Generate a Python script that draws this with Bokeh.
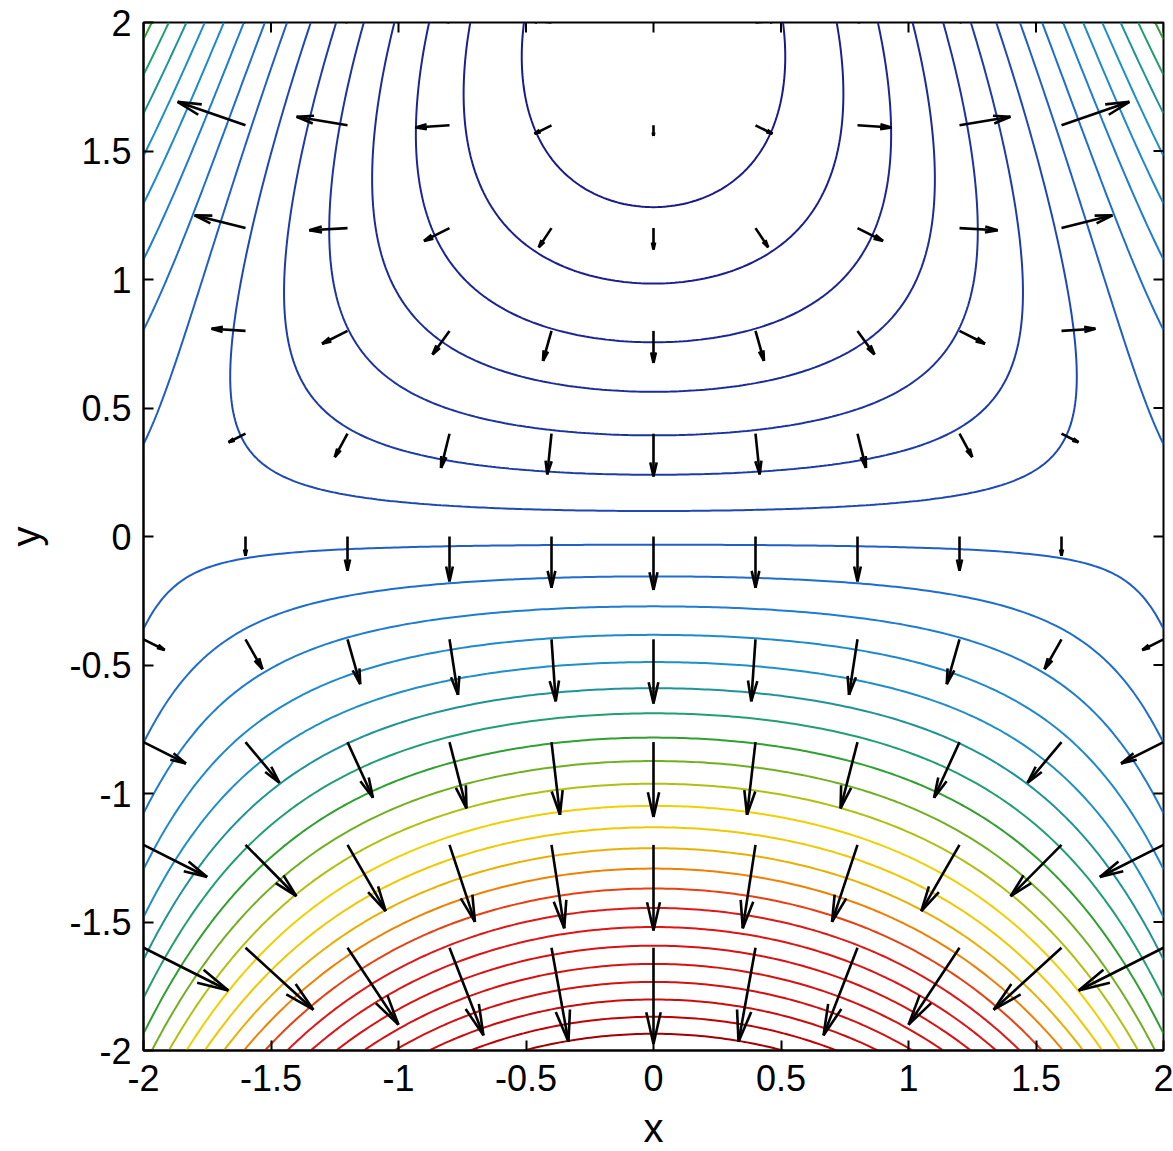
import numpy as np
from bokeh.plotting import figure
from bokeh.models import FixedTicker, Range1d
from bokeh.embed import file_html
from bokeh.resources import INLINE

# ---------------- data ----------------
X_LIMITS = [-2.0, 2.0]
Y_LIMITS = [-2.0, 2.0]
TICK_VALUES = [-2, -1.5, -1, -0.5, 0, 0.5, 1, 1.5, 2]
TICK_LABELS = ["-2", "-1.5", "-1", "-0.5", "0", "0.5", "1", "1.5", "2"]
X_LABEL = "x"
Y_LABEL = "y"

# surface f(x, y) = x^2 y + (y - 2)^2 sampled on a fine grid (contours)
contour_x = np.linspace(-2.0, 2.0, 241)
contour_y = np.linspace(-2.0, 2.0, 241)
# coarse grid for the gradient arrows
quiver_x = np.linspace(-2.0, 2.0, 11)
quiver_y = np.linspace(-2.0, 2.0, 11)
N_LEVELS = 30

LEVEL_COLORS = [
    "#1a1a8c", "#1b1f90", "#1c2595", "#1c2b9a", "#1c33a1", "#1d3ca9",
    "#1d48b6", "#1e5fc8", "#1e6ed0", "#1e7cd2", "#1e8ace", "#1e90c8",
    "#1e9496", "#20a070", "#30a030", "#70b020", "#b0c010", "#f0d000",
    "#f0c800", "#e8b000", "#f08000", "#e84010", "#e01818", "#e01414",
    "#dc1010", "#d81010", "#d41010", "#cc0c0c", "#c00000", "#a00000",
]


def surface(x, y):
    return x ** 2 * y + (y - 2.0) ** 2


def surface_gradient(x, y):
    return 2.0 * x * y, x ** 2 + 2.0 * (y - 2.0)


# ---------------- figure ----------------
p = figure(
    frame_width=1020, frame_height=1028,
    x_range=Range1d(*X_LIMITS), y_range=Range1d(*Y_LIMITS),
    output_backend="svg", toolbar_location=None,
    min_border_left=143, min_border_right=10,
    min_border_top=22, min_border_bottom=93,
    background_fill_color="white", border_fill_color="white",
)
p.grid.visible = False
p.outline_line_color = "black"
p.outline_line_width = 2

XX, YY = np.meshgrid(contour_x, contour_y)
Z = surface(XX, YY)
levels = np.linspace(Z.min(), Z.max(), N_LEVELS + 2)[1:-1]
p.contour(contour_x, contour_y, Z, levels,
          line_color=LEVEL_COLORS, line_width=2, fill_color=None)

# quiver arrows (MATLAB-style open heads)
QX, QY = np.meshgrid(quiver_x, quiver_y)
U, V = surface_gradient(QX, QY)
scale = 0.052
u = (U * scale).ravel()
v = (V * scale).ravel()
x0 = QX.ravel()
y0 = QY.ravel()
x1 = x0 + u
y1 = y0 + v
alpha, beta, eps = 0.33, 0.23, 1e-9
hx_a = x1 - alpha * (u + beta * (v + eps))
hy_a = y1 - alpha * (v - beta * (u + eps))
hx_b = x1 - alpha * (u - beta * (v + eps))
hy_b = y1 - alpha * (v + beta * (u + eps))

p.segment(x0, y0, x1, y1, line_color="black", line_width=2.6)
p.segment(hx_a, hy_a, x1, y1, line_color="black", line_width=2.6)
p.segment(hx_b, hy_b, x1, y1, line_color="black", line_width=2.6)

# ---------------- axes ----------------
overrides = {float(t): s for t, s in zip(TICK_VALUES, TICK_LABELS)}
FONT = "Liberation Sans"

for ax in (p.xaxis[0], p.yaxis[0]):
    ax.ticker = FixedTicker(ticks=TICK_VALUES)
    ax.major_label_overrides = overrides
    ax.major_tick_in = 10
    ax.major_tick_out = 0
    ax.minor_tick_in = 0
    ax.minor_tick_out = 0
    ax.major_tick_line_width = 2
    ax.axis_line_width = 2
    ax.major_label_text_font = FONT
    ax.major_label_text_color = "black"
    ax.major_label_text_font_size = "36px"
    ax.axis_label_text_font = FONT
    ax.axis_label_text_font_size = "40px"
    ax.axis_label_text_font_style = "normal"
    ax.axis_label_text_color = "black"

p.xaxis[0].major_label_standoff = 14
p.yaxis[0].major_label_standoff = 12
p.xaxis[0].axis_label = X_LABEL
p.yaxis[0].axis_label = Y_LABEL
p.xaxis[0].axis_label_standoff = 12
p.yaxis[0].axis_label_standoff = 18

# mirrored tick marks on the top and right edges of the box (MATLAB style)
tick_len_x = 10 * (X_LIMITS[1] - X_LIMITS[0]) / 1020
tick_len_y = 10 * (Y_LIMITS[1] - Y_LIMITS[0]) / 1028
tv = np.array(TICK_VALUES, dtype=float)
p.segment(tv, np.full_like(tv, Y_LIMITS[1]), tv, np.full_like(tv, Y_LIMITS[1] - tick_len_y),
          line_color="black", line_width=2)
p.segment(np.full_like(tv, X_LIMITS[1]), tv, np.full_like(tv, X_LIMITS[1] - tick_len_x), tv,
          line_color="black", line_width=2)

open("out.html", "w").write(file_html(p, INLINE))
